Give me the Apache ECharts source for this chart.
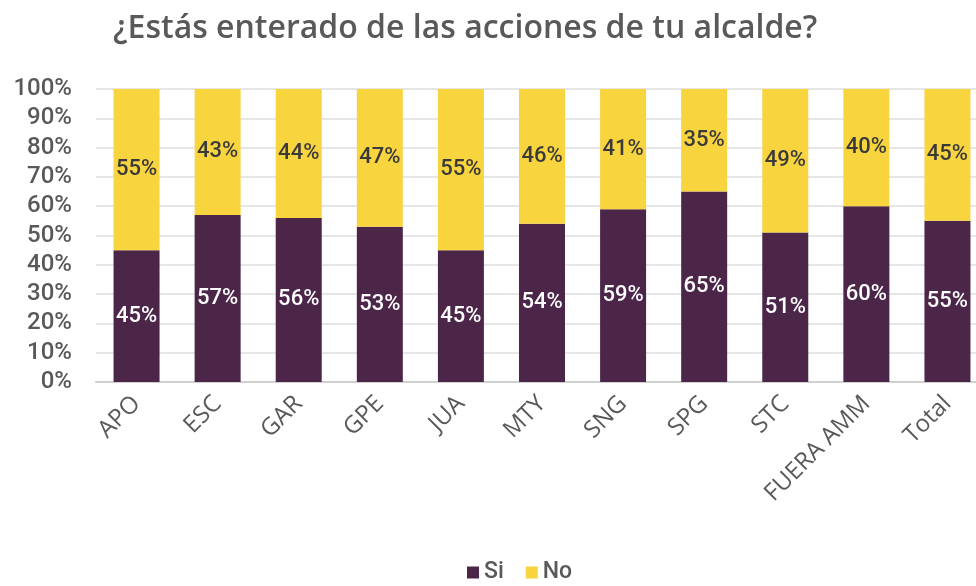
<!DOCTYPE html>
<html>
<head>
<meta charset="utf-8">
<script src="https://cdn.jsdelivr.net/npm/echarts@6/dist/echarts.min.js"></script>
<style>
  html, body { margin: 0; padding: 0; background: #fff; }
  #chart { width: 976px; height: 586px; }
</style>
</head>
<body>
<div id="chart"></div>
<script>
// datos de la encuesta
const municipios = ['APO', 'ESC', 'GAR', 'GPE', 'JUA', 'MTY', 'SNG', 'SPG', 'STC', 'FUERA AMM', 'Total'];
const si = [45, 57, 56, 53, 45, 54, 59, 65, 51, 60, 55];
const no = [55, 43, 44, 47, 55, 46, 41, 35, 49, 40, 45];

const gris = '#595959';
const fuente = 'Roboto, "DejaVu Sans", sans-serif';

const myChart = echarts.init(document.getElementById('chart'), null, { renderer: 'canvas' });

myChart.setOption({
    animation: false,
    title: {
        text: '¿Estás enterado de las acciones de tu alcalde?',
        left: 108,
        top: 8,
        textStyle: { color: gris, fontSize: 32, fontWeight: 600, fontFamily: '"Open Sans", sans-serif' }
    },
    legend: {
        top: 556,
        left: 462,
        itemWidth: 12,
        itemHeight: 12,
        itemGap: 22,
        icon: 'rect',
        textStyle: { color: gris, fontSize: 23, fontWeight: 500, fontFamily: fuente },
        data: ['Si', 'No']
    },
    grid: {
        left: 96,
        top: 89,
        width: 892,
        height: 293,
        outerBoundsMode: 'none'
    },
    xAxis: {
        type: 'category',
        data: municipios,
        axisTick: { show: false },
        axisLine: { lineStyle: { color: '#d0d0d0', width: 2 } },
        axisLabel: {
            rotate: 45,
            interval: 0,
            margin: 18,
            color: gris,
            fontSize: 24,
            fontFamily: '"Open Sans", sans-serif'
        }
    },
    yAxis: {
        type: 'value',
        min: 0,
        max: 100,
        interval: 10,
        axisLine: { show: false },
        axisTick: { show: false },
        splitLine: { lineStyle: { color: '#e6e6e6', width: 2 } },
        axisLabel: {
            formatter: '{value}%',
            margin: 24,
            color: gris,
            fontSize: 24,
            fontWeight: 500,
            fontFamily: fuente
        }
    },
    series: [
        {
            name: 'Si',
            type: 'bar',
            stack: 'total',
            barWidth: 46,
            data: si,
            itemStyle: { color: '#4b2649' },
            label: {
                show: true,
                position: 'inside',
                formatter: '{c}%',
                color: '#fff',
                fontSize: 22,
                fontWeight: 500,
                fontFamily: fuente
            }
        },
        {
            name: 'No',
            type: 'bar',
            stack: 'total',
            barWidth: 46,
            data: no,
            itemStyle: { color: '#f8d43e' },
            label: {
                show: true,
                position: 'inside',
                formatter: '{c}%',
                color: '#3a3a3a',
                fontSize: 22,
                fontWeight: 500,
                fontFamily: fuente
            }
        }
    ]
});
</script>
</body>
</html>
